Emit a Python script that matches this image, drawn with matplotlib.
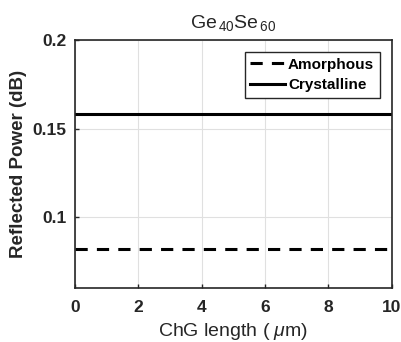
import numpy as np
import matplotlib
matplotlib.use("Agg")
import matplotlib.pyplot as plt

plt.rcParams['font.family'] = ['Liberation Sans', 'DejaVu Sans']
plt.rcParams['mathtext.fontset'] = 'custom'
plt.rcParams['mathtext.it'] = 'Liberation Sans:italic'
plt.rcParams['mathtext.rm'] = 'Liberation Sans'

# 데이터
length = [0, 10]
amorphous = [0.082, 0.082]
crystalline = [0.158, 0.158]

fig = plt.figure(figsize=(4.02, 3.42), dpi=100)
ax = fig.add_axes([0.1866, 0.158, 0.788, 0.725])

ax.plot(length, amorphous, color="black", linestyle=(0, (4, 3)), linewidth=2.2, label="Amorphous")
ax.plot(length, crystalline, color="black", linestyle="-", linewidth=2.2, label="Crystalline")

ax.set_xlim(0, 10)
ax.set_ylim(0.06, 0.2)
ax.set_xticks([0, 2, 4, 6, 8, 10])
ax.set_yticks([0.1, 0.15, 0.2])
ax.set_yticklabels(["0.1", "0.15", "0.2"])
ax.grid(True, color="#e0e0e0", linewidth=0.8)
ax.tick_params(direction="in", length=3, labelsize=12.5, colors="#262626", width=1)
ax.tick_params(axis="x", pad=9)
ax.tick_params(axis="y", pad=6)
for lab in ax.get_xticklabels() + ax.get_yticklabels():
    lab.set_fontweight("bold")
for s in ax.spines.values():
    s.set_linewidth(1.2)
    s.set_color("#262626")

ax.set_title("Ge$_{\\,40}$Se$_{\\,60}$", fontsize=14, color="#262626", pad=9)
ax.set_xlabel("ChG length ( $\\mu$m)", fontsize=14, color="#262626", labelpad=4)
ax.set_ylabel("Reflected Power (dB)", fontsize=13.5, fontweight="bold", color="#262626", labelpad=4)

leg = ax.legend(loc="upper right", prop={"weight": "bold", "size": 11},
                fancybox=False, edgecolor="#262626", framealpha=1,
                handlelength=2.3, borderpad=0.35, labelspacing=0.45, handletextpad=0.2,
                borderaxespad=0.8)
leg.get_frame().set_linewidth(1.0)

plt.savefig("out.png", dpi=100)
